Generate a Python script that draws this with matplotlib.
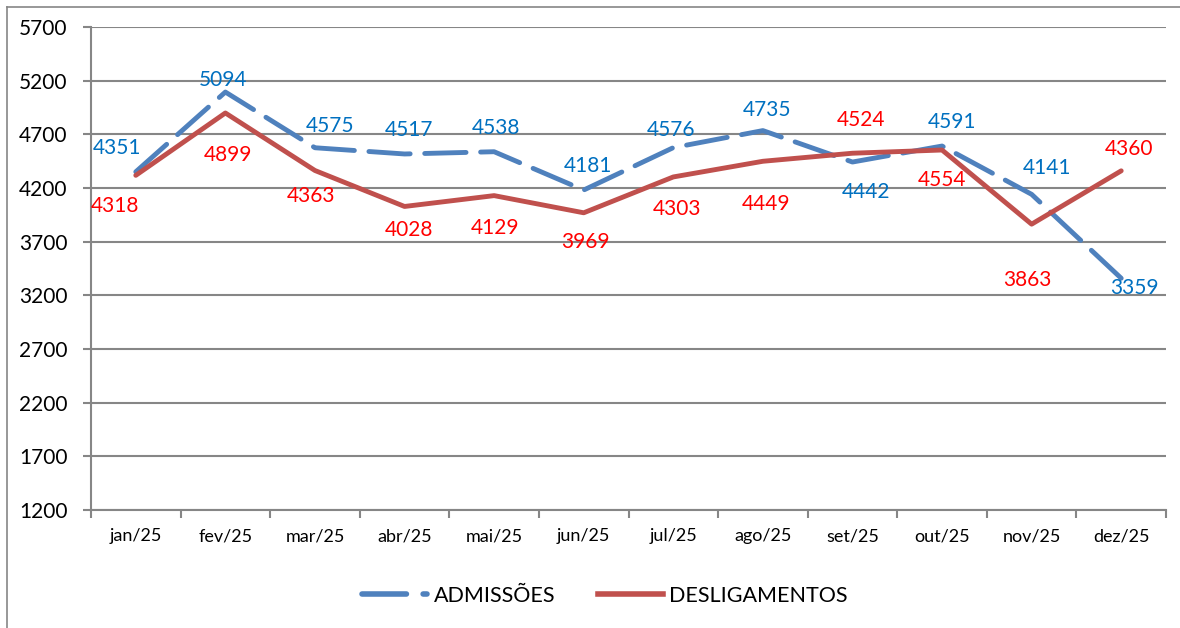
import matplotlib.pyplot as plt
from matplotlib.lines import Line2D

plt.rcParams['font.family'] = ['Lato', 'DejaVu Sans']

# data
meses = ['jan/25', 'fev/25', 'mar/25', 'abr/25', 'mai/25', 'jun/25',
         'jul/25', 'ago/25', 'set/25', 'out/25', 'nov/25', 'dez/25']
admissoes = [4351, 5094, 4575, 4517, 4538, 4181, 4576, 4735, 4442, 4591, 4141, 3359]
desligamentos = [4318, 4899, 4363, 4028, 4129, 3969, 4303, 4449, 4524, 4554, 3863, 4360]
y_ticks = [1200, 1700, 2200, 2700, 3200, 3700, 4200, 4700, 5200, 5700]

# label offsets in pixels (dx, dy)
off_adm = [(-19, 24), (-2, 12), (15, 22), (4, 24), (2, 24), (4, 24),
           (-2, 18), (4, 21), (14, -30), (10, 24), (15, 26), (13, -10)]
off_des = [(-21, -31), (3, -42), (-4, -25), (4, -24), (1, -32), (2, -29),
           (4, -32), (3, -43), (9, 33), (0, -30), (-4, -56), (8, 22)]

blue = '#4F81BD'
red = '#C0504D'
grid_c = '#868686'

fig = plt.figure(figsize=(11.8, 6.28), dpi=100)
ax = fig.add_axes([91/1180, 1 - 510/628, (1166 - 91)/1180, (510 - 27)/628])

x = list(range(len(meses)))
ax.plot(x, admissoes, color=blue, lw=3.5, linestyle=(0, (8.5, 3)), dash_capstyle='round')
ax.plot(x, desligamentos, color=red, lw=3.5, solid_capstyle='round')

px = 72 / 100
for i in x:
    dx, dy = off_adm[i]
    ax.annotate(str(admissoes[i]), (i, admissoes[i]), xytext=(dx * px, dy * px),
                textcoords='offset points', ha='center', va='center',
                color='#0070C0', fontsize=15)
    dx, dy = off_des[i]
    ax.annotate(str(desligamentos[i]), (i, desligamentos[i]), xytext=(dx * px, dy * px),
                textcoords='offset points', ha='center', va='center',
                color='#FF0000', fontsize=15)

ax.set_xlim(-0.5, len(meses) - 0.5)
ax.set_ylim(1200, 5700)
ax.set_yticks(y_ticks)
ax.set_yticklabels([str(v) for v in y_ticks], fontsize=15)
ax.set_xticks(x)
ax.set_xticklabels(meses, fontsize=13)
ax.tick_params(axis='x', which='major', length=0, pad=13)
ax.set_xticks([i - 0.5 for i in range(len(meses) + 1)], minor=True)
ax.tick_params(axis='x', which='minor', length=6, color=grid_c, width=1.5)
ax.tick_params(axis='y', length=6, color=grid_c, width=1.5, pad=11)

ax.yaxis.grid(True, color=grid_c, lw=1.5)
ax.set_axisbelow(True)
for s in ['top', 'right']:
    ax.spines[s].set_visible(False)
for s in ['left', 'bottom']:
    ax.spines[s].set_color(grid_c)
    ax.spines[s].set_linewidth(1.5)

handles = [Line2D([], [], color=blue, lw=4, linestyle=(0, (8, 3)), dash_capstyle='round'),
           Line2D([], [], color=red, lw=4)]
fig.legend(handles, ['ADMISSÕES', 'DESLIGAMENTOS'], loc='center',
           bbox_to_anchor=(605/1180, 1 - 596/628), ncol=2, frameon=False,
           fontsize=15.5, handlelength=3.0, columnspacing=2.0, handletextpad=0.3)

# outer frame
fig.add_artist(Line2D([7/1180, 7/1180], [0, 1 - 7/628], color=grid_c, lw=1.2))
fig.add_artist(Line2D([7/1180, 1], [1 - 7/628, 1 - 7/628], color=grid_c, lw=1.2))

fig.savefig('out.png', dpi=100)
